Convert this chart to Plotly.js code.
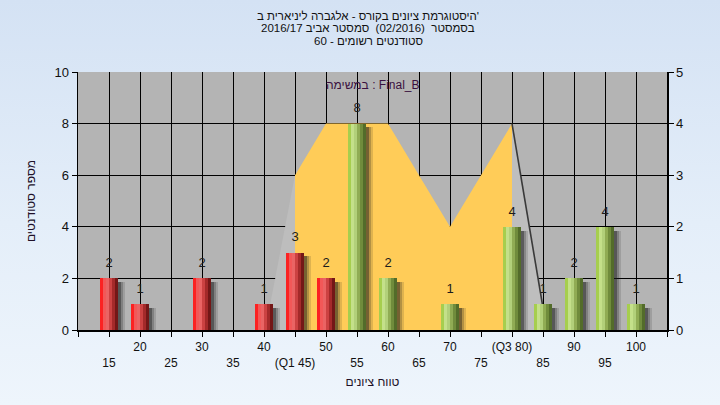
<!DOCTYPE html>
<html>
<head>
<meta charset="utf-8">
<script src="https://cdn.plot.ly/plotly-3.0.1.min.js"></script>
<style>
html,body{margin:0;padding:0;}
body{width:720px;height:405px;background:linear-gradient(to bottom,#d4e2f4 0%,#e4eef9 55%,#eef5fc 100%);}
#chart{width:720px;height:405px;}
</style>
</head>
<body>
<div id="chart"></div>
<script>
// ---- data ----
const grades = [15,20,25,30,35,40,45,50,55,60,65,70,75,80,85,90,95,100];
const counts = [2,1,0,2,0,1,3,2,8,2,0,1,0,4,1,2,4,1];
const passMark = 55;                       // bars below are red, from here green
const tickVals = [10,15,20,25,30,35,40,45,50,55,60,65,70,75,80,85,90,95,100,105];
const tickLabels = ['','15','20','25','30','35','40','(Q1 45)','50','55','60','65','70','75','(Q3 80)','85','90','95','100',''];
const areaX = [45,50,55,60,65,70,75,80];   // shaded quartile band (left-axis units)
const areaY = [6,8,8,8,6,4,6,8];
const sideLeftX = [40.2,45,45];            // light depth wedge, left side
const sideLeftY = [0,6,0];
const sideRightX = [80,85.6,80];           // light depth wedge, right side
const sideRightY = [8,0,0];
const titleLines = ["היסטוגרמת ציונים בקורס - אלגברה ליניארית ב'", "בסמסטר  (02/2016)  סמסטר אביב 2016/17", "סטודנטים רשומים - 60"];
const legendText = "במשימה : Final_B";
const yTitle = "מספר סטודנטים";
const xTitle = "טווח ציונים";

// ---- styling ----
const FONT = "'Liberation Sans', Arial, sans-serif";
const redStrips = ['#fb2222','#f25858','#ea6464','#cc4242','#a42a2a','#731717'];
const greenStrips = ['#a6ce4e','#c4e08a','#b2d07a','#90ac54','#708c3c','#536c2a'];
const barW = 3, nStrip = redStrips.length, stripW = barW / nStrip;

const redX = [], redY = [], greenX = [], greenY = [];
grades.forEach((g,i) => {
  if (counts[i] <= 0) return;
  if (g < passMark) { redX.push(g); redY.push(counts[i]); }
  else { greenX.push(g); greenY.push(counts[i]); }
});
const allX = redX.concat(greenX), allY = redY.concat(greenY);
const shadowY = allY.map(v => v - 0.15);

const traces = [];
// base subplot: band + wedges (under bars)
traces.push({type:'scatter', x:areaX, y:areaY, xaxis:'x', yaxis:'y', mode:'lines',
  line:{width:0, color:'#ffcc58'}, fill:'tozeroy', fillcolor:'#ffcc58', hoverinfo:'skip', showlegend:false});
traces.push({type:'scatter', x:sideLeftX, y:sideLeftY, xaxis:'x', yaxis:'y', mode:'lines',
  line:{width:0, color:'#bdbdbd'}, fill:'toself', fillcolor:'#bdbdbd', hoverinfo:'skip', showlegend:false});
traces.push({type:'scatter', x:sideRightX, y:sideRightY, xaxis:'x', yaxis:'y', mode:'lines',
  line:{width:0, color:'#bebebe'}, fill:'toself', fillcolor:'#bebebe', hoverinfo:'skip', showlegend:false});
traces.push({type:'scatter', x:sideRightX.slice(0,2), y:sideRightY.slice(0,2), xaxis:'x', yaxis:'y', mode:'lines',
  line:{width:1.6, color:'#3a3a3a'}, hoverinfo:'skip', showlegend:false});

// overlay subplot: shadows + bars + labels
const shadowSteps = [[0.0,0.40,'rgba(25,25,25,0.6)'],[0.40,0.35,'rgba(25,25,25,0.33)'],[0.75,0.35,'rgba(25,25,25,0.14)']];
shadowSteps.forEach(([o,w,c]) => {
  traces.push({type:'bar', x:allX, y:shadowY, xaxis:'x', yaxis:'y3', offset:barW/2 + o, width:w,
    marker:{color:c, line:{width:0}}, hoverinfo:'skip', showlegend:false});
});
for (let s = 0; s < nStrip; s++) {
  traces.push({type:'bar', x:redX, y:redY, xaxis:'x', yaxis:'y3', offset:-barW/2 + s*stripW, width:stripW*1.04,
    marker:{color:redStrips[s], line:{width:0}}, hoverinfo:'skip', showlegend:false});
  traces.push({type:'bar', x:greenX, y:greenY, xaxis:'x', yaxis:'y3', offset:-barW/2 + s*stripW, width:stripW*1.04,
    marker:{color:greenStrips[s], line:{width:0}}, hoverinfo:'skip', showlegend:false});
}
traces.push({type:'scatter', x:allX, y:allY, xaxis:'x', yaxis:'y3', mode:'markers+text',
  marker:{size:11, opacity:0}, cliponaxis:false,
  text:allY.map(String), textposition:'top center', textfont:{family:FONT, size:13, color:'#1c1c1c'},
  hoverinfo:'skip', showlegend:false});
// right-hand scale
traces.push({type:'scatter', x:[10], y:[0], xaxis:'x', yaxis:'y2', mode:'markers', marker:{opacity:0}, hoverinfo:'skip', showlegend:false});

const ticktext = tickLabels.map((t,i) => (i % 2 === 1) ? '<br>' + t : t);

const titleY = [16, 28.5, 41];  // pixel centres of the three title lines
const annotations = titleLines.map((t,i) => ({text:t, xref:'paper', yref:'paper', x:0.4925,
  y:1 + (72 - titleY[i]) / 258, xanchor:'center', yanchor:'middle', showarrow:false,
  font:{family:FONT, size:11.5, color:'#111'}}));
annotations.push({text:legendText, xref:'paper', yref:'paper', x:0.5, y:0.95, xanchor:'center', yanchor:'middle',
  showarrow:false, font:{family:FONT, size:12, color:'#3a1040'}});

const layout = {
  width:720, height:405,
  margin:{l:78, r:53, t:72, b:75},
  paper_bgcolor:'rgba(0,0,0,0)', plot_bgcolor:'#b4b4b4',
  barmode:'overlay', bargap:0,
  font:{family:FONT, size:12, color:'#111'},
  xaxis:{range:[10,105], tickmode:'array', tickvals:tickVals, ticktext:ticktext,
    showgrid:true, gridcolor:'#000', gridwidth:1, zeroline:false,
    showline:true, linecolor:'#000', linewidth:1.5,
    ticks:'outside', ticklen:5, tickcolor:'#000', tickfont:{family:FONT, size:12, color:'#111'},
    title:{text:xTitle, standoff:9, font:{family:FONT, size:12, color:'#201028'}}, fixedrange:true},
  yaxis:{range:[0,10], dtick:2, tick0:0, showgrid:true, gridcolor:'#000', gridwidth:1, zeroline:false,
    showline:true, linecolor:'#000', linewidth:1.5,
    ticks:'outside', ticklen:5, tickcolor:'#000', tickfont:{family:FONT, size:13, color:'#111'},
    title:{text:yTitle, standoff:16, font:{family:FONT, size:12, color:'#201028'}}},
  yaxis2:{range:[0,5], dtick:1, overlaying:'y', side:'right', showgrid:false, zeroline:false,
    showline:true, linecolor:'#000', linewidth:1.5,
    ticks:'outside', ticklen:5, tickcolor:'#000', tickfont:{family:FONT, size:13, color:'#111'}},
  yaxis3:{range:[0,10], overlaying:'y', visible:false, showgrid:false, zeroline:false},
  annotations:annotations
};

Plotly.newPlot('chart', traces, layout, {staticPlot:true, displayModeBar:false});
</script>
</body>
</html>
